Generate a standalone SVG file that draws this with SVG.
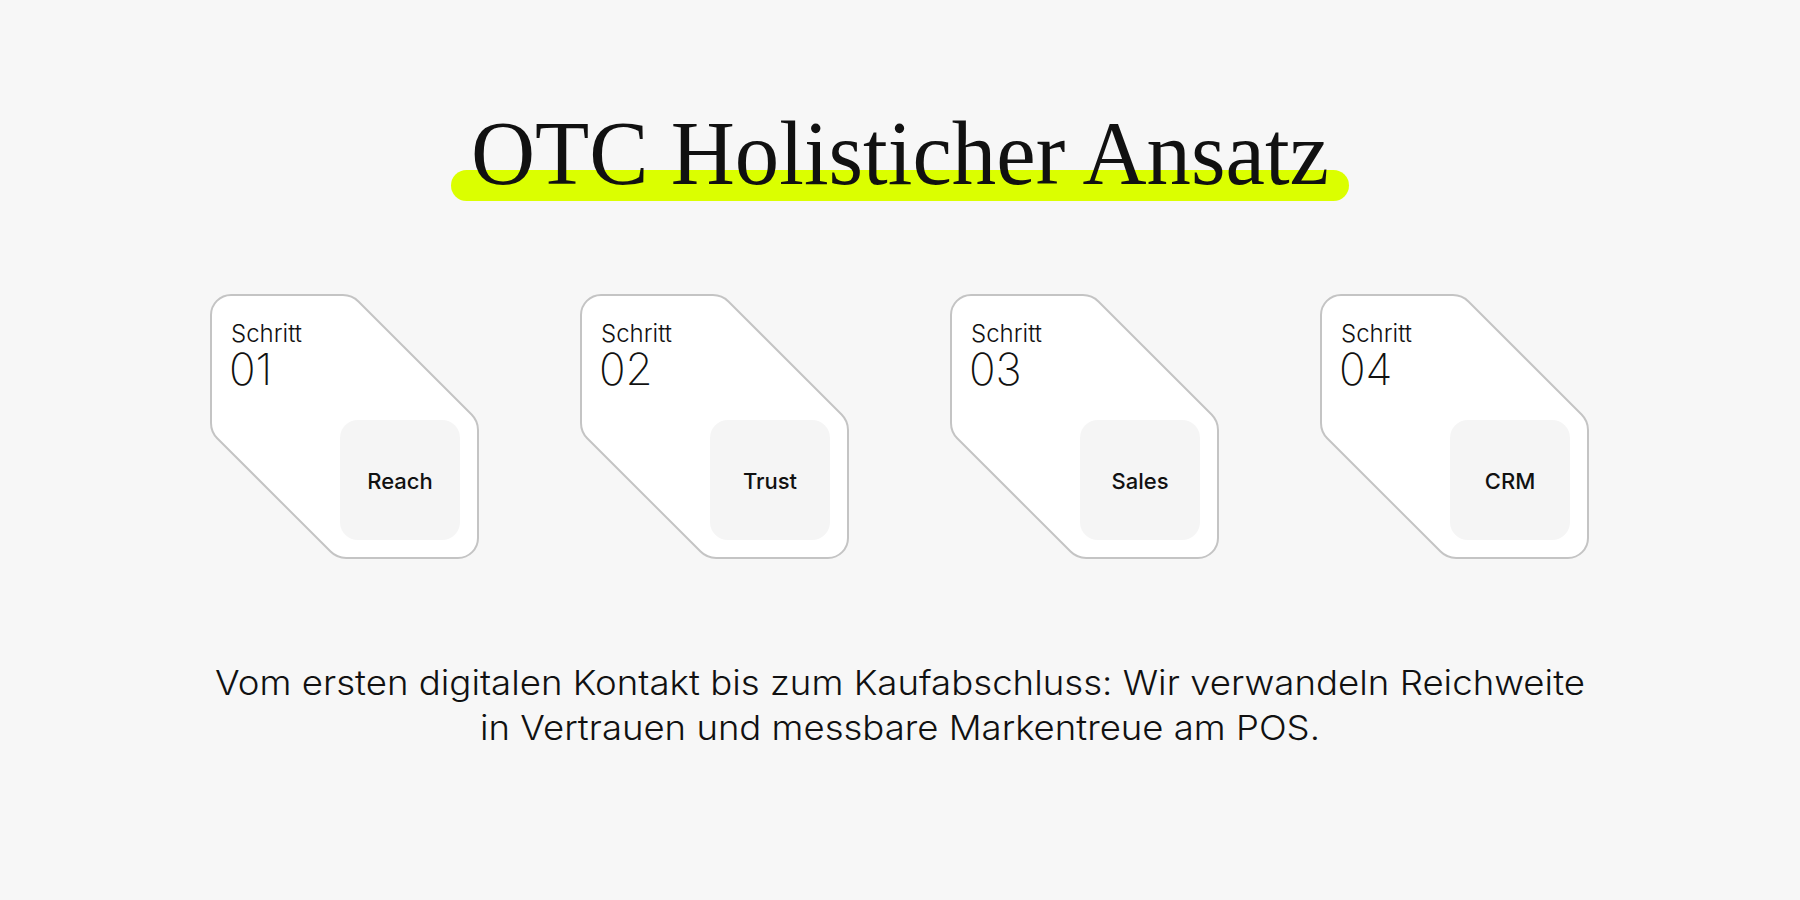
<svg xmlns="http://www.w3.org/2000/svg" xmlns:xlink="http://www.w3.org/1999/xlink" width="1800" height="900" viewBox="0 0 1800 900">
  <style>
    .bg { fill: #f7f7f7; }
    .card { fill: #ffffff; stroke: #c4c4c4; stroke-width: 2; }
    .inner { fill: #f5f5f5; }
    .step { font-family: Inter, "Liberation Sans", sans-serif; font-weight: 300; font-size: 24px; fill: #111111; }
    .num { font-family: Inter, "Liberation Sans", sans-serif; font-weight: 200; font-size: 44px; fill: #111111; }
    .label { font-family: Inter, "Liberation Sans", sans-serif; font-weight: 500; font-size: 22px; fill: #111111; text-anchor: middle; }
    .title { font-family: "Liberation Serif", "DejaVu Serif", serif; font-size: 92px; fill: #111111; text-anchor: middle; }
    .sub { font-family: Inter, "Liberation Sans", sans-serif; font-weight: 300; font-size: 34px; fill: #111111; text-anchor: middle; }
  </style>
  <defs>
    <path id="cardShape" d="M 20 0 L 131.9 0 A 22 22 0 0 1 147.43 6.43 L 260.57 119.57 A 22 22 0 0 1 267 135.1 L 267 243 A 20 20 0 0 1 247 263 L 135.1 263 A 22 22 0 0 1 119.57 256.57 L 6.43 143.43 A 22 22 0 0 1 0 127.9 L 0 20 A 20 20 0 0 1 20 0 Z"/>
  </defs>
  <rect class="bg" x="0" y="0" width="1800" height="900"/>

  <g id="title">
    <rect x="451" y="170" width="898" height="31" rx="15.5" fill="#dbff00"/>
    <text class="title" x="900" y="184" textLength="858" lengthAdjust="spacingAndGlyphs">OTC Holisticher Ansatz</text>
  </g>

  <g id="connectors"></g>

  <g id="step1" transform="translate(211 295)">
    <use xlink:href="#cardShape" class="card"/>
    <rect class="inner" x="129" y="125" width="120" height="120" rx="18"/>
    <text class="step" x="20" y="47">Schritt</text>
    <text class="num" x="18" y="90">01</text>
    <text class="label" x="189" y="194">Reach</text>
  </g>

  <g id="step2" transform="translate(581 295)">
    <use xlink:href="#cardShape" class="card"/>
    <rect class="inner" x="129" y="125" width="120" height="120" rx="18"/>
    <text class="step" x="20" y="47">Schritt</text>
    <text class="num" x="18" y="90">02</text>
    <text class="label" x="189" y="194">Trust</text>
  </g>

  <g id="step3" transform="translate(951 295)">
    <use xlink:href="#cardShape" class="card"/>
    <rect class="inner" x="129" y="125" width="120" height="120" rx="18"/>
    <text class="step" x="20" y="47">Schritt</text>
    <text class="num" x="18" y="90">03</text>
    <text class="label" x="189" y="194">Sales</text>
  </g>

  <g id="step4" transform="translate(1321 295)">
    <use xlink:href="#cardShape" class="card"/>
    <rect class="inner" x="129" y="125" width="120" height="120" rx="18"/>
    <text class="step" x="20" y="47">Schritt</text>
    <text class="num" x="18" y="90">04</text>
    <text class="label" x="189" y="194">CRM</text>
  </g>

  <g id="subtitle">
    <text class="sub" x="900" y="695" textLength="1370" lengthAdjust="spacingAndGlyphs">Vom ersten digitalen Kontakt bis zum Kaufabschluss: Wir verwandeln Reichweite</text>
    <text class="sub" x="900" y="740" textLength="840" lengthAdjust="spacingAndGlyphs">in Vertrauen und messbare Markentreue am POS.</text>
  </g>
</svg>
